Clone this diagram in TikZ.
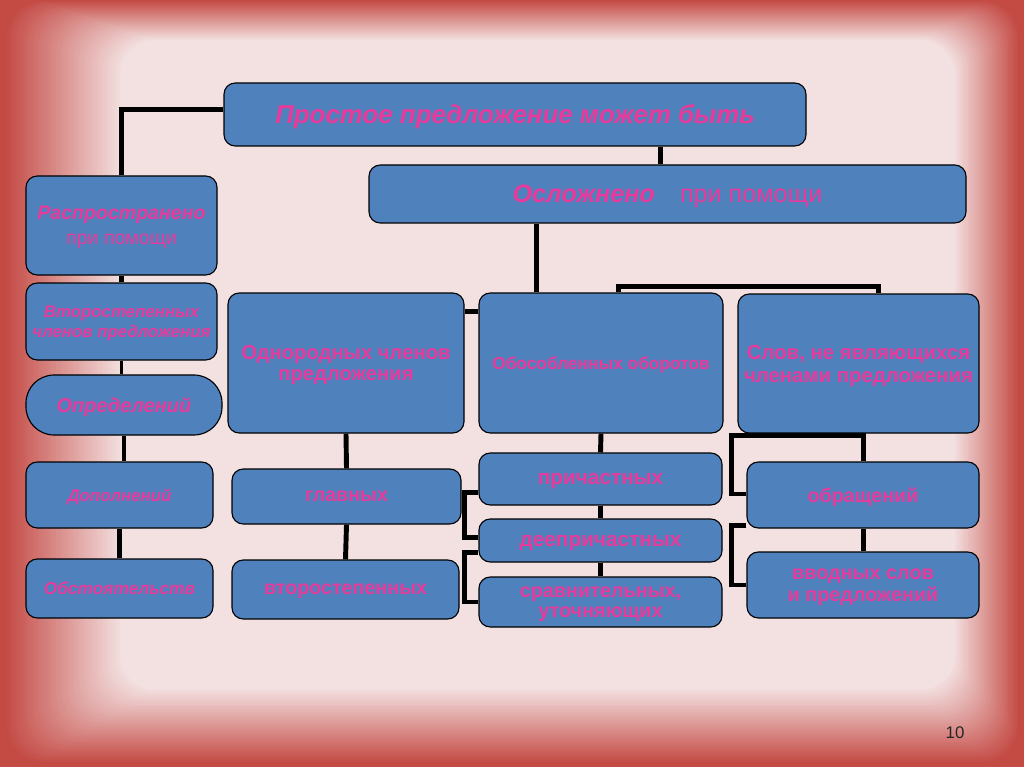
\documentclass[tikz,border=0pt]{standalone}
\usepackage{fontspec}
\setmainfont{Liberation Sans}
\usetikzlibrary{calc}
\definecolor{boxblue}{RGB}{79,129,189}
\definecolor{txtpink}{RGB}{232,58,155}
\definecolor{bgred}{RGB}{196,74,68}
\definecolor{bgpink}{RGB}{243,224,224}
\pgfdeclarelayer{backdrop}
\pgfdeclarelayer{wires}
\pgfsetlayers{backdrop,wires,main}
\newcommand\fsize[2]{\bfseries\fontsize{#1}{#2}\selectfont}

\begin{document}
\begin{tikzpicture}
[x=0.025cm, y=-0.025cm,
  boxdecorate/.style={draw=black, line width=0.8pt, fill=boxblue, rounded corners=8pt,
    inner sep=0pt, text depth=0pt, text=txtpink, align=center},%
  linedecorate/.style={-, line width=3.5pt, black}]
\useasboundingbox (0,0) rectangle (1024,767);
%% backdrop
\begin{pgfonlayer}{backdrop}
\fill[bgred] (0,0) rectangle (1024,767);
\foreach \i in {0,...,40}
{
  \pgfmathtruncatemacro\p{100*\i/40}
  \fill[bgpink!\p!bgred, rounded corners=25pt]
    (4+116*\i/40, 0+40*\i/40) rectangle (1020-65*\i/40, 764-74*\i/40);
}
\end{pgfonlayer}
%% boxes
\foreach \nodename/\cx/\cy/\w/\h/\fnt/\txt in {
  title/515/114.5/582/63/{\fsize{18.4}{21}\itshape}/{Простое предложение может быть},
  osl/667.5/194/597/58/{\fsize{17.9}{21}}/{\itshape Осложнено\hspace{1em}\mdseries\upshape при помощи},
  %% left column
  rasp/121.5/225.5/191/99/{\fsize{13.9}{18}}/{\itshape Распространено\\\mdseries при помощи},
  vtor/121.5/321.5/191/77/{\fsize{12}{14.5}\itshape}/{Второстепенных\\членов предложения},
  dop/119.5/495/187/66/{\fsize{12}{14}\itshape}/{Дополнений},
  obst/119.5/588.5/187/59/{\fsize{12.3}{14}\itshape}/{Обстоятельств},
  %% homogeneous
  odn/346/363/236/140/{\fsize{14.4}{15.5}}/{Однородных членов\\предложения},
  glav/346.5/496.5/229/55/{\fsize{14}{16}}/{главных},
  vtst/345.5/589.5/227/59/{\fsize{14}{16}}/{второстепенных},
  %% isolated
  obos/601/363/244/140/{\fsize{12.3}{14}}/{Обособленных оборотов},
  prich/600.5/479/243/52/{\fsize{14.8}{16}}/{причастных},
  deepr/600.5/540.5/243/43/{\fsize{14.8}{16}}/{деепричастных},
  srav/600.5/602/243/50/{\fsize{14.1}{13.8}}/{сравнительных,\\уточняющих},
  %% words
  slov/858.5/363.5/241/139/{\fsize{14.5}{16.5}}/{Слов, не являющихся\\членами предложения},
  obr/863/495/232/66/{\fsize{14}{16}}/{обращений},
  vvod/863/585/232/66/{\fsize{14.1}{15.5}}/{вводных слов\\и предложений}}
{
  \node (\nodename) at (\cx,\cy) [boxdecorate, font=\fnt, minimum width=\w*0.025cm,
    minimum height=\h*0.025cm] {\txt};
}
\node (opr) at (124,405) [boxdecorate, rounded corners=20pt, minimum width=4.9cm,
  minimum height=1.5cm, font=\fsize{14.2}{16}\itshape] {Определений};
\node (pagenum) at (955,733) [font=\fontsize{12}{14}\selectfont, text=black!85] {10};
%% connectors
\begin{pgfonlayer}{wires}
\draw[linedecorate] ($(title.west)+(0,-5)$) -| (rasp.north);
\draw[linedecorate] (rasp.south) -- (vtor.north);
\draw[line width=1.5pt] (vtor.south) -- (vtor.south |- opr.north);
\draw[linedecorate] (opr.south) -- (opr.south |- dop.north);
\draw[linedecorate] (dop.south) -- (obst.north);
\draw[linedecorate] ($(title.south -| osl.north)+(-7,0)$) -- ($(osl.north)+(-7,0)$);
\draw[linedecorate] ($(osl.south west)+(168,0)$) -- ($(obos.north west)+(58,0)$);
\draw[linedecorate] ($(odn.north east)+(0,19)$) -- ($(obos.north west)+(0,19)$);
\draw[linedecorate] ($(obos.north west)+(140,0)$) -- ++(0,-6) -| ($(slov.north west)+(141,0)$);
\draw[linedecorate] (odn.south) -- (glav.north);
\draw[linedecorate] (glav.south) -- (vtst.north);
\draw[linedecorate] (obos.south) -- (prich.north);
\draw[linedecorate] (prich.south) -- (deepr.north);
\draw[linedecorate] (deepr.south) -- (srav.north);
\draw[linedecorate] ($(prich.south west)+(0,-13)$) -- ++(-14,0) |- ($(deepr.west)+(0,-3)$);
\draw[linedecorate] ($(deepr.south west)+(0,-10)$) -- ++(-14,0) |- (srav.west);
\draw[linedecorate] ($(obr.west)+(0,-1)$) -| ($(slov.south west)+(-6,2)$) -| ($(obr.north west)+(117,0)$);
\draw[linedecorate] ($(obr.south west)+(0,-3)$) -- ++(-15,0) |- (vvod.west);
\draw[linedecorate] ($(obr.south west)+(117,0)$) -- ($(vvod.north west)+(117,0)$);
\end{pgfonlayer}
\end{tikzpicture}
\end{document}
